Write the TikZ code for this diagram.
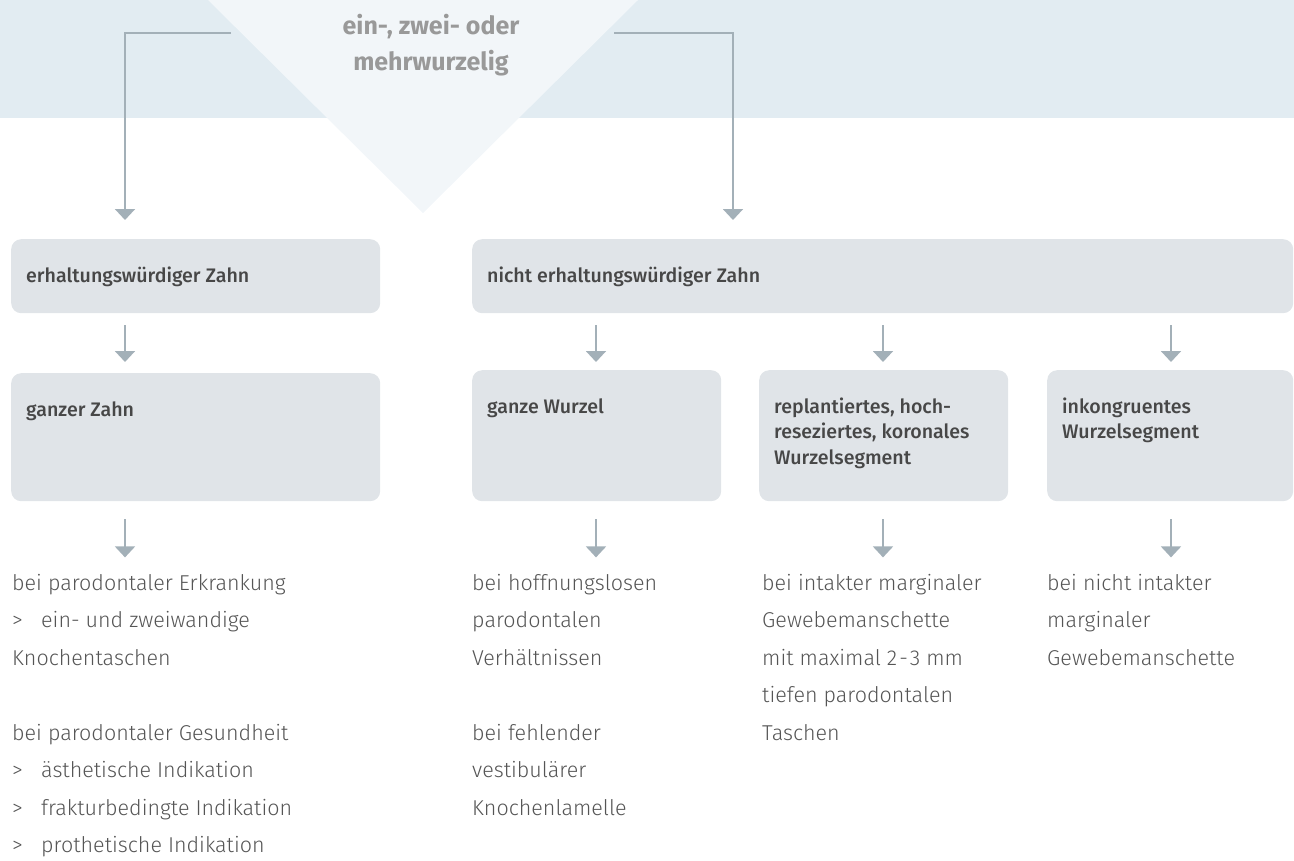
\documentclass[tikz,border=0pt]{standalone}
\usepackage{fontspec}
\setmainfont{Fira Sans}
\newfontfamily\lightfont{Fira Sans Light}
\newfontfamily\mediumfont{Fira Sans Medium}
\usetikzlibrary{arrows.meta}
\definecolor{bandc}{HTML}{E2ECF2}
\definecolor{tric}{HTML}{F2F6F9}
\definecolor{boxc}{HTML}{E0E4E8}
\definecolor{arrowc}{HTML}{A3B0B8}
\definecolor{titlec}{HTML}{999999}
\definecolor{boxtextc}{HTML}{474747}
\definecolor{bodyc}{HTML}{555555}
\newcommand\bx[3]{\parbox[c][#2][t]{#1}{\raggedright\rule{0pt}{43pt}#3}}
\newcommand\gtb{\makebox[29pt][l]{>}}
\begin{document}
\begin{tikzpicture}[x=1pt,y=-1pt,
  box/.style={fill=boxc, rounded corners=10pt, inner xsep=15pt, inner ysep=0pt,
    anchor=north west, text=boxtextc, font=\mediumfont\fontsize{19.6}{25.5}\selectfont},
  body/.style={anchor=base west, inner sep=0pt, text=bodyc,
    font=\lightfont\fontsize{21.5}{37.5}\selectfont},
  titlenode/.style={align=center, text=titlec, inner sep=0pt,
    font=\bfseries\fontsize{25}{36}\selectfont},
  arr/.style={draw=arrowc, line width=2pt, line join=miter,
    -{Triangle[width=20pt,length=11pt]}}]
\useasboundingbox (0,0) rectangle (1294,860);
% background band and triangle
\fill[bandc] (0,0) rectangle (1294,118);
\fill[tric] (208,0) -- (638,0) -- (423,213) -- cycle;
% title
\node[titlenode] (T) at (431,45) {ein-, zwei- oder\\mehrwurzelig};
% column coordinates
\coordinate (xa) at (125,0);
\coordinate (xb) at (733,0);
\coordinate (xd) at (596,0);
\coordinate (xe) at (883,0);
\coordinate (xf) at (1171,0);
\coordinate (tl) at (231,33);
\coordinate (tr) at (614,33);
% boxes
\node[box] (A) at (11,239) {\bx{339pt}{74pt}{erhaltungswürdiger Zahn}};
\node[box] (B) at (472,239) {\bx{791pt}{74pt}{nicht erhaltungswürdiger Zahn}};
\node[box] (C) at (11,373) {\bx{339pt}{128pt}{ganzer Zahn}};
\node[box] (D) at (472,370) {\bx{219pt}{131pt}{ganze Wurzel}};
\node[box] (E) at (759,370) {\bx{219pt}{131pt}{replantiertes, hoch-\\reseziertes, koronales\\Wurzelsegment}};
\node[box] (F) at (1047,370) {\bx{216pt}{131pt}{inkongruentes\\Wurzelsegment}};
% body texts
\node[body] (P1) at (12,590) {\parbox[t]{330pt}{bei parodontaler Erkrankung\\
  \gtb ein- und zweiwandige\\
  Knochentaschen\\[37.5pt]
  bei parodontaler Gesundheit\\
  \gtb ästhetische Indikation\\
  \gtb frakturbedingte Indikation\\
  \gtb prothetische Indikation}};
\node[body] (P2) at (472,590) {\parbox[t]{250pt}{bei hoffnungslosen\\
  parodontalen\\
  Verhältnissen\\[37.5pt]
  bei fehlender\\
  vestibulärer\\
  Knochenlamelle}};
\node[body] (P3) at (762,590) {\parbox[t]{250pt}{bei intakter marginaler\\
  Gewebemanschette\\
  mit maximal 2\kern2pt-\kern2pt3 mm\\
  tiefen parodontalen\\
  Taschen}};
\node[body] (P4) at (1047,590) {\parbox[t]{240pt}{bei nicht intakter\\
  marginaler\\
  Gewebemanschette}};
% connectors
\draw[arr] (tl) -| ([yshift=19pt]A.north -| xa);
\draw[arr] (tr) -| ([yshift=19pt]B.north -| xb);
\draw[arr] ([yshift=-12pt]A.south -| xa) -- ([yshift=11pt]C.north -| xa);
\draw[arr] ([yshift=-12pt]B.south -| xd) -- ([yshift=8pt]D.north -| xd);
\draw[arr] ([yshift=-12pt]B.south -| xe) -- ([yshift=8pt]E.north -| xe);
\draw[arr] ([yshift=-12pt]B.south -| xf) -- ([yshift=8pt]F.north -| xf);
\draw[arr] ([yshift=-18pt]C.south -| xa) -- ([yshift=-56pt]C.south -| xa);
\draw[arr] ([yshift=-18pt]D.south -| xd) -- ([yshift=-56pt]D.south -| xd);
\draw[arr] ([yshift=-18pt]E.south -| xe) -- ([yshift=-56pt]E.south -| xe);
\draw[arr] ([yshift=-18pt]F.south -| xf) -- ([yshift=-56pt]F.south -| xf);
\end{tikzpicture}
\end{document}
